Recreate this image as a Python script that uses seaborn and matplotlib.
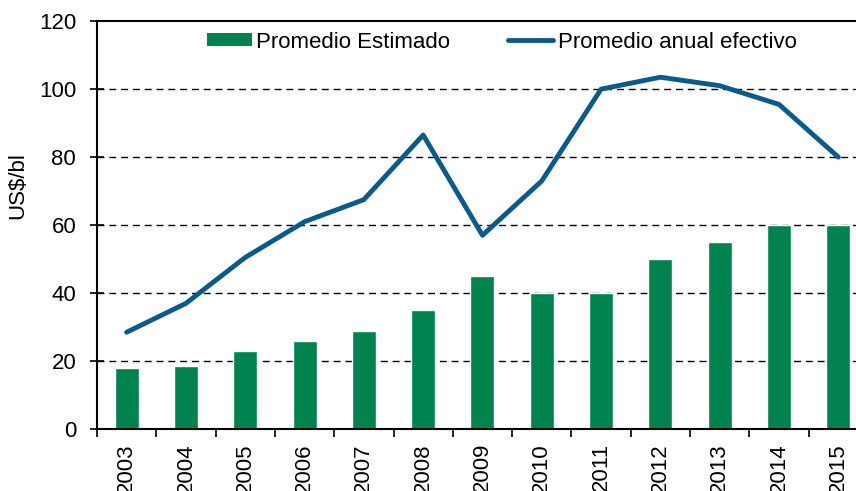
import numpy as np
import seaborn as sns
import matplotlib
matplotlib.use("Agg")
import matplotlib.pyplot as plt
from matplotlib.patches import Patch
from matplotlib.lines import Line2D

years = ["2003", "2004", "2005", "2006", "2007", "2008", "2009",
         "2010", "2011", "2012", "2013", "2014", "2015"]
estimado = [18, 18.5, 23, 26, 29, 35, 45, 40, 40, 50, 55, 60, 60]
efectivo = [28.5, 37, 50.5, 61, 67.5, 86.5, 57, 73, 100, 103.5, 101, 95.5, 80]

bar_color = "#00834E"
line_color = "#0B5A8C"

sns.set_style("white")
plt.rcParams["font.family"] = ["Liberation Sans", "DejaVu Sans"]
plt.rcParams["text.color"] = "black"
plt.rcParams["axes.labelcolor"] = "black"
plt.rcParams["xtick.color"] = "black"
plt.rcParams["ytick.color"] = "black"

fig = plt.figure(figsize=(8.56, 4.91), dpi=100)
ax = fig.add_axes([0.1133, 0.126, 0.9007, 0.831])

sns.barplot(x=years, y=estimado, color=bar_color, width=0.405,
            saturation=1, ax=ax, zorder=2)
sns.lineplot(x=np.arange(len(years)), y=efectivo, color=line_color,
             linewidth=3.5, ax=ax, zorder=3)

ax.set_xlim(-0.5, len(years) - 0.5)
ax.set_ylim(0, 120)
ax.set_yticks(range(0, 121, 20))
ax.set_xticks(np.arange(len(years)))
ax.set_xticklabels(years, rotation=90)
ax.set_xticks(np.arange(len(years) + 1) - 0.5, minor=True)
ax.tick_params(axis="x", which="major", length=0, pad=10, labelsize=16,
               labelcolor="black")
ax.tick_params(axis="x", which="minor", length=6, width=1.2,
               direction="out", color="black", bottom=True)
ax.tick_params(axis="y", length=10, width=1.2, direction="inout",
               color="black", left=True, labelsize=16, pad=10,
               labelcolor="black")

for y in range(20, 120, 20):
    ax.axhline(y, color="black", linestyle=(0, (5, 3.5)), linewidth=1.0, zorder=1)

for side in ["left", "bottom", "top"]:
    ax.spines[side].set_visible(True)
    ax.spines[side].set_color("black")
    ax.spines[side].set_linewidth(1.5)
ax.spines["right"].set_visible(False)

ax.set_xlabel("")
ax.set_ylabel("US$/bl", fontsize=16, color="black")
ax.yaxis.set_label_coords(-0.0895, 0.596)

handles = [Patch(facecolor=bar_color, edgecolor="none"),
           Line2D([0], [0], color=line_color, linewidth=3.5)]
leg = ax.legend(handles, ["Promedio Estimado", "Promedio anual efectivo"],
                loc="center", bbox_to_anchor=(0.525, 0.9485), ncol=2,
                frameon=False, fontsize=16, handlelength=2.0, handleheight=0.55,
                handletextpad=0.22, columnspacing=2.6)
for t in leg.get_texts():
    t.set_color("black")

fig.savefig("out.png", dpi=100)
